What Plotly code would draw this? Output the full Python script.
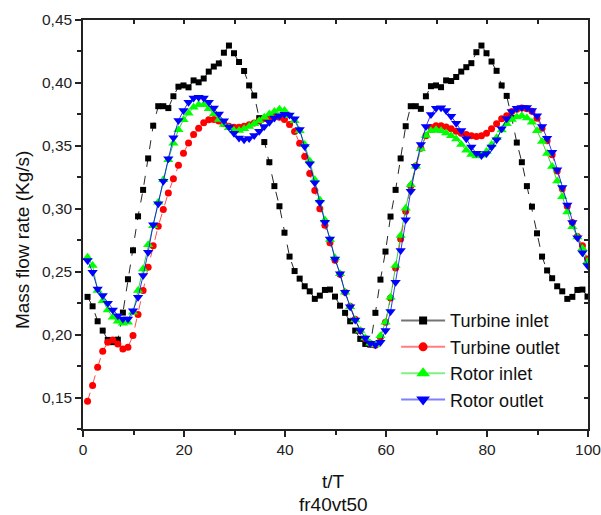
import plotly.graph_objects as go

# time grid (t/T)
t = [round(k - 0.1, 1) for k in range(1, 101)]

turbine_inlet = [
    0.230, 0.2225, 0.2106, 0.2032, 0.1958, 0.194, 0.196, 0.2175, 0.244, 0.267,
    0.294, 0.315, 0.340, 0.366, 0.3815, 0.3815, 0.380, 0.3894, 0.397, 0.398,
    0.3965, 0.402, 0.4005, 0.4035, 0.409, 0.413, 0.4155, 0.424, 0.4297, 0.4236,
    0.4166, 0.4095, 0.398, 0.390, 0.372, 0.353, 0.337, 0.318, 0.302, 0.281,
    0.262, 0.2505, 0.2445, 0.2384, 0.2344, 0.2284, 0.231, 0.2355, 0.2358, 0.2302,
    0.223, 0.2173, 0.2106, 0.2032, 0.1966, 0.1926, 0.192, 0.2173, 0.2437, 0.266,
    0.2938, 0.315, 0.340, 0.3656, 0.3815, 0.3815, 0.3794, 0.3894, 0.3974, 0.398,
    0.3966, 0.402, 0.4015, 0.4047, 0.409, 0.4125, 0.4157, 0.4244, 0.4297, 0.4236,
    0.417, 0.4096, 0.398, 0.3897, 0.372, 0.3526, 0.337, 0.318, 0.3017, 0.2805,
    0.262, 0.251, 0.2448, 0.2384, 0.2344, 0.2284, 0.230, 0.2355, 0.2358, 0.2302,
]

turbine_outlet = [
    0.147, 0.1595, 0.174, 0.1867, 0.194, 0.1958, 0.1926, 0.1886, 0.190, 0.1992,
    0.216, 0.235, 0.2535, 0.2707, 0.2861, 0.2994, 0.3126, 0.3238, 0.3345, 0.3442,
    0.3522, 0.359, 0.364, 0.3683, 0.3707, 0.371, 0.3698, 0.3675, 0.3655, 0.3648,
    0.3648, 0.3655, 0.3668, 0.3681, 0.3698, 0.3717, 0.3727, 0.3733, 0.3727, 0.371,
    0.367, 0.3614, 0.352, 0.3415, 0.328, 0.3145, 0.300, 0.287, 0.273, 0.259,
    0.248, 0.2337, 0.2225, 0.2122, 0.203, 0.197, 0.193, 0.1915, 0.198, 0.2098,
    0.229, 0.253, 0.276, 0.298, 0.318, 0.334, 0.348, 0.358, 0.3645, 0.366,
    0.366, 0.365, 0.3635, 0.3615, 0.360, 0.359, 0.358, 0.3575, 0.358, 0.360,
    0.3635, 0.3675, 0.3715, 0.374, 0.3773, 0.379, 0.380, 0.3795, 0.3775, 0.372,
    0.364, 0.354, 0.343, 0.330, 0.316, 0.302, 0.289, 0.278, 0.2707, 0.260,
]

rotor_inlet = [
    0.2615, 0.2549, 0.235, 0.227, 0.2196, 0.2138, 0.2106, 0.209, 0.2098, 0.2177,
    0.235, 0.2522, 0.2715, 0.2866, 0.3052, 0.323, 0.3389, 0.352, 0.3627, 0.3707,
    0.376, 0.3807, 0.3826, 0.3826, 0.3794, 0.3754, 0.3709, 0.367, 0.3643, 0.3622,
    0.3622, 0.3635, 0.3653, 0.3675, 0.370, 0.3727, 0.3754, 0.3773, 0.379, 0.3780,
    0.374, 0.370, 0.362, 0.351, 0.338, 0.323, 0.307, 0.291, 0.2755, 0.261,
    0.2483, 0.2337, 0.2222, 0.2117, 0.2032, 0.1974, 0.1931, 0.192, 0.199, 0.2098,
    0.2297, 0.2549, 0.2787, 0.3004, 0.319, 0.3338, 0.3476, 0.3582, 0.362, 0.3627,
    0.362, 0.3603, 0.358, 0.3555, 0.351, 0.3465, 0.3432, 0.342, 0.3425, 0.3455,
    0.351, 0.3565, 0.3625, 0.3675, 0.371, 0.373, 0.374, 0.3722, 0.3688, 0.362,
    0.3535, 0.344, 0.3335, 0.322, 0.3095, 0.2975, 0.2858, 0.2775, 0.2685, 0.258,
]

rotor_outlet = [
    0.2588, 0.2496, 0.2363, 0.231, 0.2249, 0.2196, 0.215, 0.2125, 0.2125, 0.219,
    0.2297, 0.2469, 0.2654, 0.2874, 0.3039, 0.3219, 0.3397, 0.3564, 0.3701, 0.3781,
    0.3847, 0.3881, 0.3886, 0.3881, 0.3847, 0.380, 0.3754, 0.370, 0.365, 0.360,
    0.3562, 0.3548, 0.3558, 0.3582, 0.3615, 0.3653, 0.3688, 0.3722, 0.374, 0.3752,
    0.3745, 0.3715, 0.363, 0.3494, 0.3357, 0.3206, 0.3052, 0.2893, 0.276, 0.260,
    0.2483, 0.2337, 0.2222, 0.2117, 0.2032, 0.1974, 0.1931, 0.192, 0.194, 0.2032,
    0.2183, 0.2416, 0.2668, 0.2912, 0.3139, 0.3338, 0.351, 0.3653, 0.3749, 0.3799,
    0.3802, 0.378, 0.3735, 0.368, 0.3622, 0.3556, 0.349, 0.3441, 0.3423, 0.344,
    0.349, 0.3548, 0.3635, 0.3715, 0.3773, 0.3799, 0.3805, 0.3805, 0.378, 0.374,
    0.3653, 0.356, 0.345, 0.331, 0.317, 0.303, 0.289, 0.277, 0.265, 0.255,
]

x_ticks = [0, 20, 40, 60, 80, 100]
y_ticks = [0.15, 0.20, 0.25, 0.30, 0.35, 0.40, 0.45]

FONT = "Liberation Sans, Arial, sans-serif"

fig = go.Figure()
series = [
    ("Turbine inlet", turbine_inlet, "#000000", "rgba(0,0,0,0.85)", "rgba(0,0,0,0.55)", "square", 6, 8, "dash"),
    ("Turbine outlet", turbine_outlet, "#ff0000", "rgba(255,0,0,0.7)", "rgba(255,0,0,0.5)", "circle", 7, 9, "dash"),
    ("Rotor inlet", rotor_inlet, "#00ff00", "rgba(0,200,0,0.8)", "rgba(0,230,0,0.5)", "triangle-up", 9, 12, "solid"),
    ("Rotor outlet", rotor_outlet, "#0000ff", "rgba(0,0,255,0.8)", "rgba(0,0,255,0.5)", "triangle-down", 9, 12, "solid"),
]
for name, vals, mc, lc, leg_lc, sym, sz, leg_sz, dash in series:
    fig.add_trace(go.Scatter(
        x=t, y=vals, name=name, mode="lines+markers", showlegend=False,
        line=dict(color=lc, width=1, dash=dash),
        marker=dict(color=mc, symbol=sym, size=sz, line=dict(width=0)),
        cliponaxis=True,
    ))
# legend-only entries (solid light lines, larger symbols as in the reference key)
for name, vals, mc, lc, leg_lc, sym, sz, leg_sz, dash in series:
    fig.add_trace(go.Scatter(
        x=[None], y=[None], name=name, mode="lines+markers",
        line=dict(color=leg_lc, width=2),
        marker=dict(color=mc, symbol=sym, size=leg_sz, line=dict(width=0)),
    ))

# helper trace for the mirrored (top/right) tick axes
fig.add_trace(go.Scatter(x=[], y=[], xaxis="x2", yaxis="y2", showlegend=False, hoverinfo="skip"))

axis_common = dict(showline=True, linecolor="#222222", linewidth=1.5, showgrid=False,
                   zeroline=False, ticks="outside", ticklen=6, tickwidth=1.5, tickcolor="#222222",
                   ticklabeloverflow="allow", automargin=False,
                   tickfont=dict(family=FONT, size=15.5, color="#222222"))

fig.update_layout(
    width=601, height=515,
    margin=dict(l=83, r=13, t=20, b=86, autoexpand=False),
    paper_bgcolor="white", plot_bgcolor="white",
    separators=", ",
    font=dict(family=FONT, color="#222222"),
    xaxis=dict(range=[0, 100], tickvals=x_ticks, ticktext=[str(v) for v in x_ticks],
               minor=dict(dtick=10, tick0=0, ticks="outside", ticklen=4, tickwidth=1.5, tickcolor="#222222"),
               **axis_common),
    yaxis=dict(range=[0.125, 0.45], tickvals=y_ticks, tickformat=".2f",
               minor=dict(dtick=0.025, tick0=0.125, ticks="outside", ticklen=4, tickwidth=1.5, tickcolor="#222222"),
               **axis_common),
    xaxis2=dict(overlaying="x", side="top", range=[0, 100], dtick=10, tick0=0,
                ticks="inside", ticklen=4, tickwidth=1.5, tickcolor="#222222",
                showticklabels=False, showline=True, linecolor="#222222", linewidth=1.5,
                showgrid=False, zeroline=False, automargin=False),
    yaxis2=dict(overlaying="y", side="right", range=[0.125, 0.45], dtick=0.025, tick0=0.125,
                ticks="inside", ticklen=4, tickwidth=1.5, tickcolor="#222222",
                showticklabels=False, showline=True, linecolor="#222222", linewidth=1.5,
                showgrid=False, zeroline=False, automargin=False),
    legend=dict(x=0.62, y=0.31, xanchor="left", yanchor="top", bgcolor="rgba(0,0,0,0)",
                font=dict(family=FONT, size=18, color="#111111"), itemwidth=44,
                traceorder="normal"),
    annotations=[
        dict(text="Mass flow rate (Kg/s)", xref="paper", yref="paper", x=-0.1208, y=0.462,
             textangle=-90, showarrow=False, font=dict(family=FONT, size=19, color="#111111"),
             xanchor="center", yanchor="middle"),
        dict(text="t/T", xref="paper", yref="paper", x=0.497, y=-0.128, showarrow=False,
             font=dict(family=FONT, size=19, color="#111111"), xanchor="center", yanchor="middle"),
        dict(text="fr40vt50", xref="paper", yref="paper", x=0.497, y=-0.184, showarrow=False,
             font=dict(family=FONT, size=19, color="#111111"), xanchor="center", yanchor="middle"),
    ],
)

fig.write_html("out.html", config={"displayModeBar": False})

# remove the browser's default body margin so the figure sits at the page origin
with open("out.html", "r", encoding="utf-8") as f:
    html = f.read()
html = html.replace("<body>", '<body style="margin:0;padding:0;">', 1)
with open("out.html", "w", encoding="utf-8") as f:
    f.write(html)
